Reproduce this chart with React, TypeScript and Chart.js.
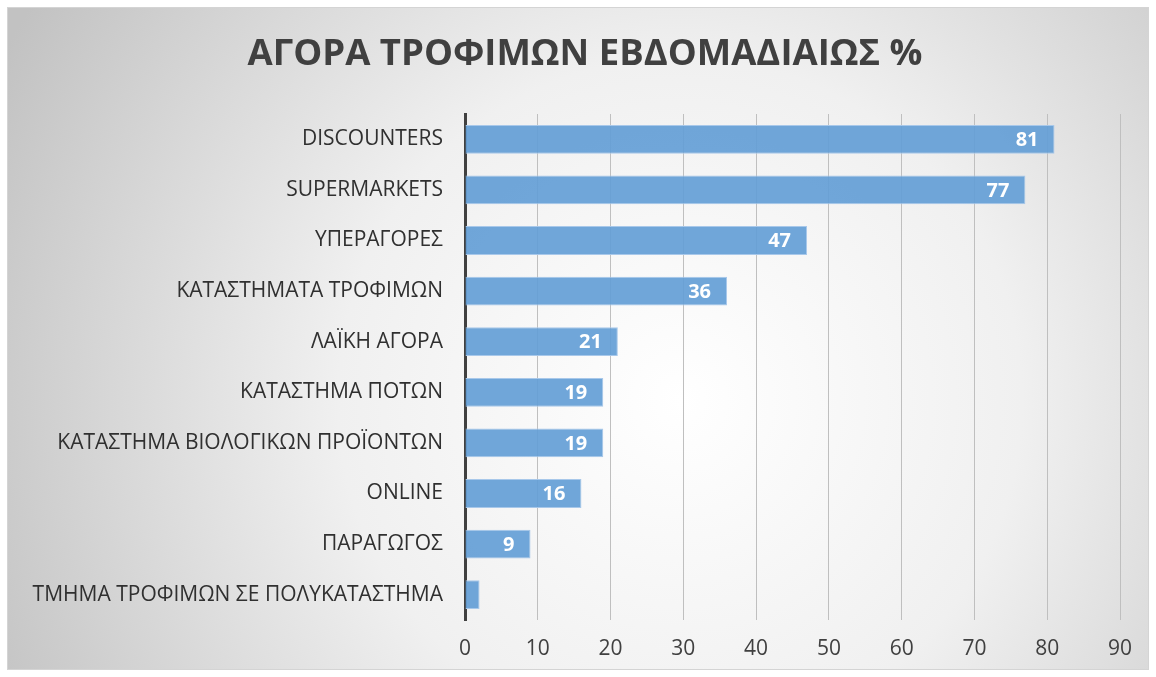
import React, { useEffect, useRef } from "react";
import { Chart, registerables } from "chart.js";

Chart.register(...registerables);

const categories = [
  "DISCOUNTERS",
  "SUPERMARKETS",
  "ΥΠΕΡΑΓΟΡΕΣ",
  "ΚΑΤΑΣΤΗΜΑΤΑ ΤΡΟΦΙΜΩΝ",
  "ΛΑΪΚΗ ΑΓΟΡΑ",
  "ΚΑΤΑΣΤΗΜΑ ΠΟΤΩΝ",
  "ΚΑΤΑΣΤΗΜΑ ΒΙΟΛΟΓΙΚΩΝ ΠΡΟΪΟΝΤΩΝ",
  "ONLINE",
  "ΠΑΡΑΓΩΓΟΣ",
  "ΤΜΗΜΑ ΤΡΟΦΙΜΩΝ ΣΕ ΠΟΛΥΚΑΤΑΣΤΗΜΑ",
];
const values = [81, 77, 47, 36, 21, 19, 19, 16, 9, 2];
const xMin = 0;
const xMax = 90;
const xStep = 10;
const title = "ΑΓΟΡΑ ΤΡΟΦΙΜΩΝ ΕΒΔΟΜΑΔΙΑΙΩΣ %";

const FONT = "'Open Sans', 'Noto Sans', sans-serif";

const backgroundPlugin = {
  id: "bgGradient",
  beforeDraw(chart: any) {
    const { ctx, width, height } = chart;
    ctx.save();
    const x0 = 7, y0 = 7, x1 = width - 7, y1 = height - 7;
    const g = ctx.createRadialGradient(680, 400, 0, 680, 400, 760);
    g.addColorStop(0, "#ffffff");
    g.addColorStop(0.45, "#f0f0f0");
    g.addColorStop(1, "#c2c2c2");
    ctx.fillStyle = g;
    ctx.fillRect(x0, y0, x1 - x0, y1 - y0);
    ctx.strokeStyle = "#d4d4d4";
    ctx.lineWidth = 1;
    ctx.strokeRect(x0 + 0.5, y0 + 0.5, x1 - x0 - 1, y1 - y0 - 1);
    ctx.restore();
  },
};

const titlePlugin = {
  id: "customTitle",
  afterDraw(chart: any) {
    const { ctx } = chart;
    ctx.save();
    ctx.font = `bold 36.5px ${FONT}`;
    ctx.fillStyle = "#404040";
    ctx.textAlign = "center";
    ctx.textBaseline = "middle";
    ctx.fillText(title, 585, 55);
    ctx.restore();
  },
};

const labelPlugin = {
  id: "barLabels",
  afterDatasetsDraw(chart: any) {
    const { ctx } = chart;
    const meta = chart.getDatasetMeta(0);
    ctx.save();
    ctx.font = `bold 20px ${FONT}`;
    ctx.fillStyle = "#ffffff";
    ctx.textAlign = "right";
    ctx.textBaseline = "middle";
    meta.data.forEach((bar: any, i: number) => {
      const v = values[i];
      if (v < 5) return;
      ctx.fillText(String(v), bar.x - 16, bar.y + 1);
    });
    ctx.restore();
  },
};

export default function App() {
  const ref = useRef<HTMLCanvasElement | null>(null);
  useEffect(() => {
    document.body.style.margin = "0";
    const canvas = ref.current!;
    const chart = new Chart(canvas, {
      type: "bar",
      data: {
        labels: categories,
        datasets: [
          {
            data: values,
            backgroundColor: "rgba(100,158,214,0.92)",
            borderColor: "#a8c8ea",
            borderWidth: 1,
            borderSkipped: "start",
            categoryPercentage: 1,
            barPercentage: 0.57,
          },
        ],
      },
      options: {
        indexAxis: "y",
        responsive: false,
        animation: false,
        layout: { padding: { top: 114, right: 36, bottom: 0, left: 0 } },
        plugins: {
          legend: { display: false },
          tooltip: { enabled: false },
          title: { display: false },
        },
        scales: {
          x: {
            min: xMin,
            max: xMax,
            ticks: {
              stepSize: xStep,
              color: "#404040",
              font: { family: FONT, size: 21 },
              padding: 16,
            },
            grid: { color: "#bfbfbf", lineWidth: 1, drawTicks: false },
            border: { display: false },
            afterFit(scale: any) {
              scale.height = 57;
            },
          },
          y: {
            ticks: {
              color: "#303030",
              font: { family: FONT, size: 21 },
              padding: 22,
              autoSkip: false,
            },
            grid: { display: false, drawTicks: false },
            border: { display: true, color: "#404040", width: 3 },
            afterFit(scale: any) {
              scale.width = 465;
            },
          },
        },
      },
      plugins: [backgroundPlugin, titlePlugin, labelPlugin],
    });
    return () => chart.destroy();
  }, []);
  return <canvas ref={ref} width={1156} height={677} style={{ display: "block" }} />;
}
